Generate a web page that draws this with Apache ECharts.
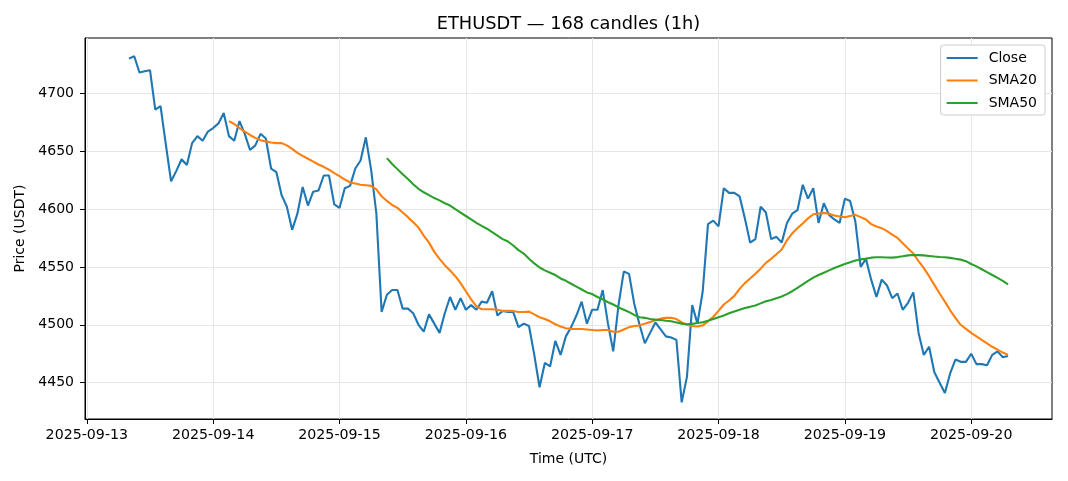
<!DOCTYPE html>
<html>
<head>
<meta charset="utf-8">
<script src="https://cdn.jsdelivr.net/npm/echarts@6/dist/echarts.min.js"></script>
<style>
html,body{margin:0;padding:0;background:#fff;}
#chart{width:1068px;height:481px;}
</style>
</head>
<body>
<div id="chart"></div>
<script>
// ---- data ----
const startTimeUTC = Date.UTC(2025, 8, 13, 8); // first candle 2025-09-13 08:00 UTC
const HOUR = 3600000;
const closes = [
4730,4732,4718,4719,4720,4686,4689,4656,4624,4633,
4643,4638,4657,4663,4659,4667,4670,4674,4683,4663,
4659,4676,4665,4651,4655,4665,4661,4635,4632,4612,
4602,4582,4596,4619,4603,4615,4616,4629,4629,4604,
4601,4618,4620,4635,4642,4662,4634,4596,4511,4526,
4530,4530,4514,4514,4510,4500,4494,4509,4501,4493,
4510,4524,4513,4523,4513,4517,4513,4520,4519,4529,
4508,4512,4511,4511,4498,4501,4499,4474,4446,4467,
4464,4486,4474,4490,4498,4508,4520,4501,4513,4513,
4530,4501,4477,4517,4546,4544,4518,4500,4484,4493,
4502,4496,4490,4489,4487,4433,4455,4517,4501,4529,
4587,4590,4585,4618,4614,4614,4611,4592,4571,4574,
4602,4597,4574,4576,4571,4588,4596,4599,4621,4609,
4618,4588,4605,4595,4591,4588,4609,4607,4589,4550,
4557,4539,4524,4539,4534,4523,4527,4513,4519,4528,
4493,4474,4481,4459,4450,4441,4458,4470,4468,4468,
4475,4466,4466,4465,4474,4477,4472,4473
];
const sma20Start = 19;
const sma20 = [
4676,4673.5,4670,4667,4664,4661.5,4659.5,4658.5,4657.5,4657,
4657,4655,4652,4648.5,4646,4643.5,4641,4638.5,4636.5,4634,
4631,4628.5,4625.5,4623,4622,4621,4620.5,4620,4617,4611,
4607,4603.5,4601,4597,4593,4588.5,4584,4577,4571,4563,
4557,4551.5,4547,4542,4536,4529,4522,4516,4513.5,4513.4,
4513.4,4513,4512,4512,4512,4511,4511,4511.4,4509,4506.5,
4505,4503,4500.5,4498.5,4497,4496.5,4496.4,4496.4,4496,4495.5,
4495,4495.5,4495.5,4494,4494,4496,4498,4499,4499.3,4501,
4502.5,4504,4505.3,4506,4506,4505,4502,4500,4499,4498.5,
4499.5,4503,4507,4512,4517.5,4521,4525,4531,4536,4540,
4544,4548.5,4553.5,4557,4561,4565,4573,4579,4583.5,4587.5,
4592,4595.5,4596.2,4596.7,4596,4594.5,4593.5,4593,4594,4595,
4593,4591,4587,4585,4583.5,4581,4578,4575,4570.5,4566,
4561.5,4555,4549,4542,4534.5,4527,4520,4512.5,4506,4500,
4496.5,4493,4490,4487,4484,4481,4478.5,4476,4474
];
const sma50Start = 49;
const sma50 = [
4644,4639,4634.5,4630,4626,4621.5,4617.5,4614.5,4612,4609.5,
4607.5,4605,4603,4600,4597,4594,4591,4588,4585.5,4583,
4580,4577,4574,4572,4568.5,4564.5,4561.5,4557,4553,4549.5,
4547,4545,4543,4540,4538,4535.5,4533,4530.5,4528,4526.5,
4524,4522,4519.5,4517.5,4515,4513,4511,4508.5,4506.5,4506,
4505,4504.5,4504.2,4503.5,4503,4502,4501,4500.5,4500.8,4501.5,
4502.2,4503.5,4505,4506.5,4508,4510,4511.5,4513,4514.5,4515.5,
4516.7,4518.5,4520.3,4521.5,4523,4524.4,4526.5,4529,4532,4535,
4538,4540.7,4543,4545,4547,4549,4550.8,4552.5,4554,4555.5,
4556.5,4557.2,4558,4558.3,4558.3,4558.2,4558,4558.5,4559.2,4560,
4560.3,4560.2,4560,4559.5,4559,4558.6,4558.3,4557.8,4557,4556.3,
4555,4552.5,4550.5,4548,4545.5,4543,4540.5,4538,4535
];
const dayTicks = ['2025-09-13','2025-09-14','2025-09-15','2025-09-16','2025-09-17','2025-09-18','2025-09-19','2025-09-20'];
const priceTicks = [4450,4500,4550,4600,4650,4700];
const titleText = 'ETHUSDT — 168 candles (1h)';

// ---- build ----
const t = i => startTimeUTC + i * HOUR;
const closeData = closes.map((v, i) => [t(i), v]);
const sma20Data = sma20.map((v, i) => [t(i + sma20Start), v]);
const sma50Data = sma50.map((v, i) => [t(i + sma50Start), v]);
const dayTickMs = dayTicks.map(d => Date.parse(d + 'T00:00:00Z'));
const span = (closes.length - 1) * HOUR;
const xMin = t(0) - 0.05 * span;
const xMax = t(closes.length - 1) + 0.05 * span;

function fmtDay(ms) {
  const d = new Date(ms);
  const p = n => String(n).padStart(2, '0');
  return d.getUTCFullYear() + '-' + p(d.getUTCMonth() + 1) + '-' + p(d.getUTCDate());
}

const FONT = 'DejaVu Sans';
const GRID = {left: 85, right: 16, top: 38, bottom: 62};
const W = 1068;
const chart = echarts.init(document.getElementById('chart'), null, {renderer: 'canvas'});
chart.setOption({
  animation: false,
  backgroundColor: '#ffffff',
  graphic: [{
    type: 'text',
    x: (GRID.left + (W - GRID.right)) / 2, y: 24,
    style: {text: titleText, textAlign: 'center', textVerticalAlign: 'middle',
      fontFamily: FONT, fontSize: 17.8, fill: '#000'}
  }],
  legend: {
    orient: 'vertical', right: 23, top: 45,
    icon: 'rect', itemWidth: 31, itemHeight: 2, itemGap: 8.5,
    padding: [6, 8, 5, 6],
    backgroundColor: '#fff', borderColor: '#cccccc', borderWidth: 1, borderRadius: 3,
    textStyle: {fontFamily: FONT, fontSize: 14, color: '#000', padding: [0, 0, 0, 6]},
    data: ['Close', 'SMA20', 'SMA50']
  },
  grid: Object.assign({show: true, borderColor: '#000', borderWidth: 1}, GRID),
  xAxis: {
    type: 'value', min: xMin, max: xMax,
    name: 'Time (UTC)', nameLocation: 'middle', nameGap: 33,
    nameTextStyle: {fontFamily: FONT, fontSize: 14, color: '#000'},
    axisLine: {show: true, onZero: false, lineStyle: {color: '#000', width: 1}},
    axisTick: {show: true, customValues: dayTickMs, length: 5, lineStyle: {color: '#000'}},
    axisLabel: {customValues: dayTickMs, formatter: v => fmtDay(v), margin: 9,
      fontFamily: FONT, fontSize: 14.2, color: '#000'},
    splitLine: {show: true, lineStyle: {color: '#e6e6e6', width: 1}}
  },
  yAxis: {
    type: 'value', min: 4418.6, max: 4747.8,
    name: 'Price (USDT)', nameLocation: 'middle', nameGap: 50, nameRotate: 90,
    nameTextStyle: {fontFamily: FONT, fontSize: 14, color: '#000'},
    axisLine: {show: true, lineStyle: {color: '#000', width: 1}},
    axisTick: {show: true, customValues: priceTicks, length: 5, lineStyle: {color: '#000'}},
    axisLabel: {customValues: priceTicks, formatter: v => String(v), margin: 11,
      fontFamily: FONT, fontSize: 14, color: '#000'},
    splitLine: {show: true, lineStyle: {color: '#e6e6e6', width: 1}}
  },
  series: [
    {name: 'Close', type: 'line', data: closeData, showSymbol: false, symbol: 'none',
      lineStyle: {color: '#1f77b4', width: 2.1}, itemStyle: {color: '#1f77b4'}},
    {name: 'SMA20', type: 'line', data: sma20Data, showSymbol: false, symbol: 'none',
      lineStyle: {color: '#ff7f0e', width: 2.1}, itemStyle: {color: '#ff7f0e'}},
    {name: 'SMA50', type: 'line', data: sma50Data, showSymbol: false, symbol: 'none',
      lineStyle: {color: '#2ca02c', width: 2.1}, itemStyle: {color: '#2ca02c'}}
  ]
});
</script>
</body>
</html>
